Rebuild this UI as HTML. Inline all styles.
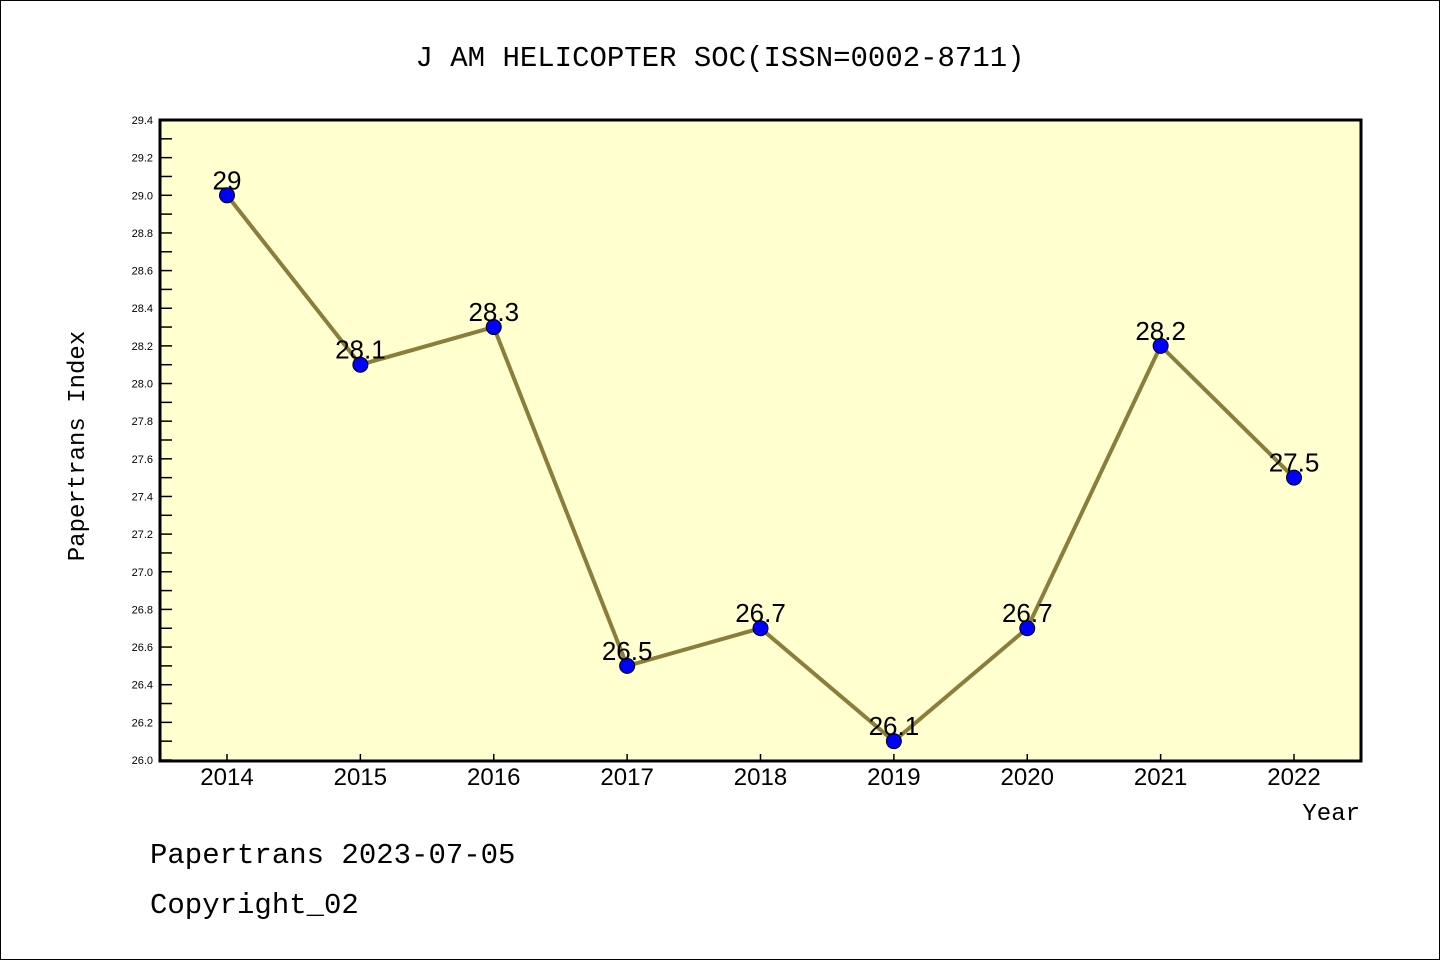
<!DOCTYPE html>
<html><head><meta charset="utf-8"><style>
body{margin:0;background:#fff}
svg text{font-family:"Liberation Sans","Noto Sans CJK SC",sans-serif}
.mono{font-family:"Liberation Mono","Noto Sans CJK SC",monospace}
</style></head><body>
<svg id="chart" width="1440" height="960" xmlns="http://www.w3.org/2000/svg">
<rect x="0.5" y="0.5" width="1439" height="959" fill="#fff" stroke="#000"/>
<text class="mono" x="720" y="66" font-size="29" text-anchor="middle">J AM HELICOPTER SOC(ISSN=0002-8711)</text>
<rect x="160" y="120" width="1201" height="641" fill="#ffffd0" stroke="#000" stroke-width="3"/>
<g id="yaxis"></g>
<g id="xaxis"></g>
<g id="series"></g>
<text class="mono" transform="translate(84,446) rotate(-90)" font-size="24" text-anchor="middle">Papertrans Index</text>
<text class="mono" x="1360" y="820" font-size="24" text-anchor="end">Year</text>
<text class="mono" x="150" y="863" font-size="29">Papertrans 2023-07-05</text>
<text class="mono" x="150" y="913" font-size="29">Copyright_02</text>
</svg>
<script>
const years=["2014","2015","2016","2017","2018","2019","2020","2021","2022"];
const values=[29,28.1,28.3,26.5,26.7,26.1,26.7,28.2,27.5];
const valueLabels=["29","28.1","28.3","26.5","26.7","26.1","26.7","28.2","27.5"];
const yTicks=["26.0","26.2","26.4","26.6","26.8","27.0","27.2","27.4","27.6","27.8","28.0","28.2","28.4","28.6","28.8","29.0","29.2","29.4"];
const NS="http://www.w3.org/2000/svg";
const yMin=26,yMax=29.4,plotTop=120,plotBot=760;
function y(v){return plotBot-(v-yMin)/(yMax-yMin)*(plotBot-plotTop);}
function x(i){return 227+i*(1294-227)/(years.length-1);}
function mk(t,a,p){const e=document.createElementNS(NS,t);for(const k in a)e.setAttribute(k,a[k]);p.appendChild(e);return e;}
const ya=document.getElementById('yaxis'),xa=document.getElementById('xaxis'),se=document.getElementById('series');
yTicks.forEach(t=>{const v=parseFloat(t),yy=y(v);
 const l=mk('line',{x1:160,x2:172,y1:yy,y2:yy,stroke:'#000','stroke-width':1.5},ya);
 
 
 if(v+0.1<yMax){
 const m=mk('line',{x1:160,x2:172,y1:y(v+0.1),y2:y(v+0.1),stroke:'#000','stroke-width':1.5},ya);
 
 
 }
 const tx=mk('text',{x:153,y:yy+4,'font-size':11,'text-anchor':'end'},ya);tx.textContent=t;
 
 
});
years.forEach((yr,i)=>{const xx=x(i);
 const l=mk('line',{x1:xx,x2:xx,y1:760,y2:754,stroke:'#000','stroke-width':1.5},xa);
 
 
 const t=mk('text',{x:xx,y:785,'font-size':24,'text-anchor':'middle'},xa);t.textContent=yr;
 
 
});
const pl=mk('polyline',{points:values.map((v,i)=>x(i)+','+y(v)).join(' '),fill:'none',stroke:'#8b7d3a','stroke-width':4},se);


values.forEach((v,i)=>{
 const c=mk('circle',{cx:x(i),cy:y(v),r:7.5,fill:'#0000ff',stroke:'#000','stroke-width':1},se);
 
 
 const t=mk('text',{x:x(i),y:y(v)-6,'font-size':26,'text-anchor':'middle'},se);t.textContent=valueLabels[i];
 
 
});
</script>
</body></html>
